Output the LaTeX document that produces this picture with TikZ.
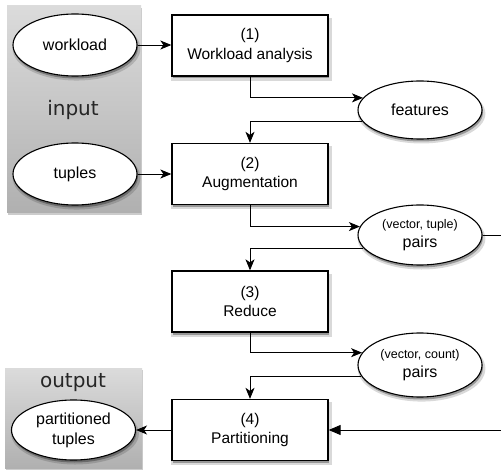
\documentclass[tikz,border=0pt]{standalone}
\usepackage{fontspec}
\setmainfont{Liberation Sans}
\newfontfamily\panelfont{DejaVu Sans}
\usetikzlibrary{arrows.meta,shadows,calc,shapes.geometric}
\begin{document}
\begin{tikzpicture}[x=1pt,y=-1pt,
  softshadow/.style={
    drop shadow={shadow xshift=1.5pt,shadow yshift=-3.5pt,opacity=0.15,fill=black,shadow scale=1.03},
    drop shadow={shadow xshift=1pt,shadow yshift=-2.5pt,opacity=0.3,fill=black}},
  stepbox/.style={draw=black,line width=1.3pt,fill=white,minimum width=156pt,minimum height=61pt,
    align=center,font=\fontsize{15.5}{19.5}\selectfont,inner sep=0pt,softshadow},
  oval/.style={ellipse,draw=black,line width=1.1pt,fill=white,minimum width=124pt,minimum height=60pt,
    align=center,inner sep=0pt,font=\fontsize{16}{20}\selectfont,softshadow},
  panel/.style={top color=black!14,bottom color=black!31,draw=none,
    drop shadow={shadow xshift=1pt,shadow yshift=-2pt,opacity=0.2,fill=black}},
  panellabel/.style={font=\panelfont\fontsize{20}{24}\selectfont,text=black!85},
  conn/.style={line width=0.9pt,-{Stealth[length=11pt,width=9pt,inset=3pt]}},
  plain/.style={line width=0.9pt}
]
\useasboundingbox (0,0) rectangle (501,473);
\fill[white] (0,0) rectangle (501,473);
% panels
\node[panel,minimum width=134pt,minimum height=207pt,inner sep=0pt] (inpanel) at (74,109.5) {};
\node[panel,minimum width=137pt,minimum height=100pt,inner sep=0pt] (outpanel) at (73.5,418) {};
\node[panellabel] (inlabel) at (73,110) {input};
\node[panellabel] (outlabel) at (73,383) {output};

% ellipses
\node[oval,minimum height=62pt] (workload) at (75,45) {workload};
\node[oval,minimum height=62pt] (tuples) at (75,174) {tuples};
\node[oval,minimum height=58pt] (features) at (420,110) {features};
\node[oval] (pairs1) at (420,235) {{\fontsize{12.5}{15}\selectfont (vector, tuple)}\\[-1pt]pairs};
\node[oval,minimum height=64pt] (pairs2) at (420,365) {{\fontsize{12.5}{15}\selectfont (vector, count)}\\[-1pt]pairs};
\node[oval] (parttuples) at (73.5,430) {partitioned\\tuples};

% boxes
\node[stepbox] (s1) at (250,45.5) {(1)\\Workload analysis};
\node[stepbox] (s2) at (250,174) {(2)\\Augmentation};
\node[stepbox] (s3) at (250,301.5) {(3)\\Reduce};
\node[stepbox] (s4) at (250,430) {(4)\\Partitioning};

\coordinate (r1) at (505,235);
\coordinate (r2) at (505,430);

% connectors
\draw[conn] (workload.east) -- (workload.east -| s1.west);
\draw[conn] (tuples.east) -- (tuples.east -| s2.west);
\draw[conn] (s1.south) |- (features.168);
\draw[conn] (features.191) -| (s2.north);
\draw[conn] (s2.south) |- (pairs1.172.4);
\draw[conn] (pairs1.193.1) -| (s3.north);
\draw[conn] (s3.south) |- (pairs2.168.2);
\draw[conn] (pairs2.191.8) -| (s4.north);
\draw[conn] (s4.west) -- (parttuples.east);
\draw[plain] (pairs1.east) -- (r1) -- (r2);
\draw[line width=0.9pt,-{Triangle[length=12pt,width=10pt]}] (r2) -- (s4.east);
\end{tikzpicture}
\end{document}
